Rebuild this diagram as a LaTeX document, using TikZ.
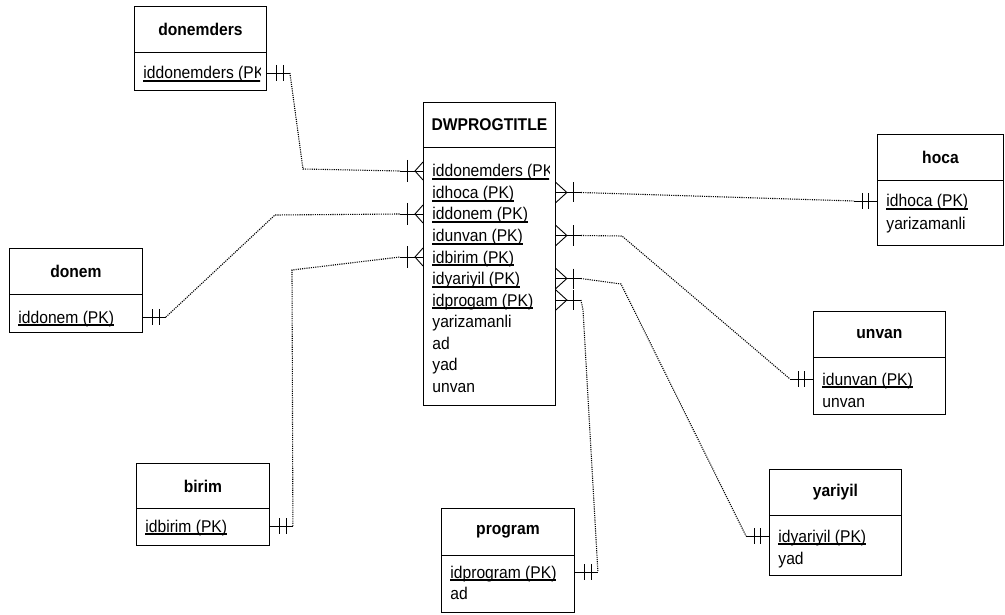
\documentclass[tikz,border=0pt]{standalone}
\usepackage{fontspec}
\newfontfamily\erfont[FakeStretch=0.92]{Liberation Sans}
\usetikzlibrary{positioning,calc}
\newcommand{\pkey}[1]{\setbox0\hbox{#1}\rlap{\rule[-3.2pt]{\wd0}{1.8pt}}\box0}
\tikzset{hdr/.style={draw,line width=0.9pt,inner sep=0pt,anchor=north west,font=\erfont\fontsize{17}{20}\selectfont\bfseries},
    bdy/.style={draw,line width=0.9pt,inner sep=0pt,anchor=north west},
    row/.style={anchor=west,inner sep=0pt,text height=13pt,text depth=1pt,font=\erfont\fontsize{17}{20}\selectfont},
    rel/.style={dash pattern=on 1.1pt off 1.1pt,line width=1.1pt}}

\begin{document}
\begin{tikzpicture}[x=1pt,y=-1pt,line width=0.9pt]
    \useasboundingbox (0,0) rectangle (1005,615);

    % DWPROGTITLE
    \node[hdr,minimum width=132,minimum height=45] (dwh) at (423,102) {DWPROGTITLE};
    \node[bdy,minimum width=132,minimum height=258] (dwb) at (423,147) {};
    \begin{scope}
        \clip (423,147) rectangle (549,405);
        \node[row] (dw1) at (432,171) {\pkey{iddonemders (PK}};
    \end{scope}
    \node[row] (dw2) at (432,192.5) {\pkey{idhoca (PK)}};
    \node[row] (dw3) at (432,214) {\pkey{iddonem (PK)}};
    \node[row] (dw4) at (432,235.5) {\pkey{idunvan (PK)}};
    \node[row] (dw5) at (432,257) {\pkey{idbirim (PK)}};
    \node[row] (dw6) at (432,278.5) {\pkey{idyariyil (PK)}};
    \node[row] (dw7) at (432,300) {\pkey{idprogam (PK)}};
    \node[row] (dw8) at (432,321.5) {yarizamanli};
    \node[row] (dw9) at (432,343) {ad};
    \node[row] (dw10) at (432,364.5) {yad};
    \node[row] (dw11) at (432,386) {unvan};

    % donemders
    \node[hdr,minimum width=132,minimum height=46] (dmh) at (134,6) {donemders};
    \node[bdy,minimum width=132,minimum height=38] (dmb) at (134,52) {};
    \begin{scope}
        \clip (134,52) rectangle (260,90);
        \node[row] (dm1) at (143,73) {\pkey{iddonemders (PK}};
    \end{scope}

    % donem
    \node[hdr,minimum width=133,minimum height=46] (dnh) at (9,248) {donem};
    \node[bdy,minimum width=133,minimum height=38] (dnb) at (9,294) {};
    \node[row] (dn1) at (18,317) {\pkey{iddonem (PK)}};

    % birim
    \node[hdr,minimum width=133,minimum height=45] (brh) at (136,463) {birim};
    \node[bdy,minimum width=133,minimum height=37] (brb) at (136,508) {};
    \node[row] (br1) at (145,526) {\pkey{idbirim (PK)}};

    % program
    \node[hdr,minimum width=133,minimum height=47] (prh) at (441,508) {program};
    \node[bdy,minimum width=133,minimum height=57] (prb) at (441,555) {};
    \node[row] (pr1) at (450,572) {\pkey{idprogram (PK)}};
    \node[row] (pr2) at (450,593.5) {ad};

    % hoca
    \node[hdr,minimum width=126,minimum height=46] (hch) at (877,134) {hoca};
    \node[bdy,minimum width=126,minimum height=65] (hcb) at (877,180) {};
    \node[row] (hc1) at (886,201) {\pkey{idhoca (PK)}};
    \node[row] (hc2) at (886,223.5) {yarizamanli};

    % unvan
    \node[hdr,minimum width=132,minimum height=46] (unh) at (813,311) {unvan};
    \node[bdy,minimum width=132,minimum height=57] (unb) at (813,357) {};
    \node[row] (un1) at (822,379) {\pkey{idunvan (PK)}};
    \node[row] (un2) at (822,401) {unvan};

    % yariyil
    \node[hdr,minimum width=132,minimum height=46] (yyh) at (769,469) {yariyil};
    \node[bdy,minimum width=132,minimum height=60] (yyb) at (769,515) {};
    \node[row] (yy1) at (778,536) {\pkey{idyariyil (PK)}};
    \node[row] (yy2) at (778,558) {yad};

    % many side at DWPROGTITLE
    \foreach \r in {dw1,dw3,dw5}{
        \coordinate (p) at (dwb.west |- \r);
        \draw (p) -- ++(-23,0) coordinate (\r-e);
        \draw ($(p)+(0,-9)$) -- ($(p)+(-8,0)$) -- ($(p)+(0,9)$);
        \draw ($(p)+(-16,-11)$) -- ++(0,22);
    }
    \foreach \r in {dw2,dw4,dw6,dw7}{
        \coordinate (p) at (dwb.east |- \r);
        \draw (p) -- ++(25,0) coordinate (\r-e);
        \draw ($(p)+(0,-10)$) -- ($(p)+(11,0)$) -- ($(p)+(0,10)$);
        \draw ($(p)+(18,-10)$) -- ++(0,20);
    }

    % one side at the lookup tables
    \foreach \r/\b in {dm1/dmb,dn1/dnb,br1/brb,pr1/prb}{
        \coordinate (p) at (\b.east |- \r);
        \draw (p) -- ++(23,0) coordinate (\r-e);
        \draw ($(p)+(10,-8)$) -- ++(0,16);
        \draw ($(p)+(17,-8)$) -- ++(0,16);
    }
    \foreach \r/\b in {hc1/hcb,un1/unb,yy1/yyb}{
        \coordinate (p) at (\b.west |- \r);
        \draw (p) -- ++(-23,0) coordinate (\r-e);
        \draw ($(p)+(-9,-8)$) -- ++(0,16);
        \draw ($(p)+(-15,-8)$) -- ++(0,16);
    }

    % relationships
    \draw[rel] (dm1-e) -- (303,169) -- (dw1-e);
    \draw[rel] (dn1-e) -- (275,215) -- (dw3-e);
    \draw[rel] (br1-e) -- (292,270) -- (dw5-e);
    \draw[rel] (dw2-e) -- (hc1-e);
    \draw[rel] (dw4-e) -- (622,236) -- (un1-e);
    \draw[rel] (dw6-e) -- (621,284) -- (yy1-e);
    \draw[rel] (dw7-e) -- (583,310) -- (pr1-e);
\end{tikzpicture}
\end{document}
